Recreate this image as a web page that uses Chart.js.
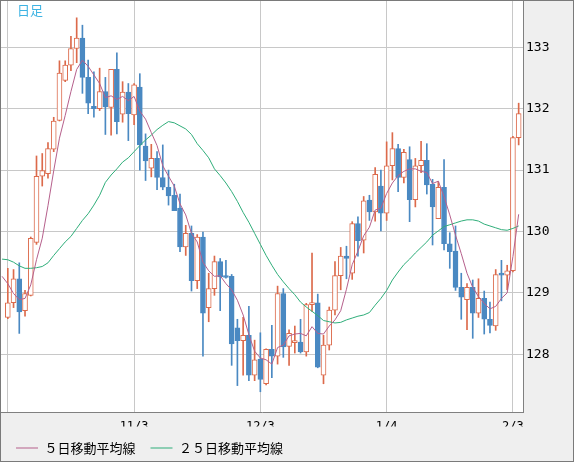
<!DOCTYPE html>
<html>
<head>
<meta charset="utf-8">
<script src="https://cdn.jsdelivr.net/npm/chart.js@4.4.1/dist/chart.umd.min.js"></script>
<style>
  html, body { margin: 0; padding: 0; background: #efefef; }
  #wrap { width: 574px; height: 462px; box-sizing: border-box; border: 1px solid #7a7a7a; background: #efefef; }
  canvas { display: block; }
</style>
</head>
<body>
<div id="wrap"><canvas id="chart" width="572" height="460"></canvas></div>
<script>
// trading days shown on the x axis
const dates = [
    '10/3','10/4','10/5','10/6','10/7','10/11','10/12','10/13','10/14','10/17','10/18','10/19','10/20','10/21','10/24','10/25','10/26','10/27','10/28','10/31','11/1','11/2',
    '11/3','11/4','11/7','11/8','11/9','11/10','11/11','11/14','11/15','11/16','11/17','11/18','11/21','11/22','11/23','11/24','11/25','11/28','11/29','11/30','12/1','12/2',
    '12/3','12/6','12/7','12/8','12/9','12/10','12/13','12/14','12/15','12/16','12/17','12/20','12/21','12/22','12/23','12/24','12/27','12/28','12/29','12/30','12/31','1/3',
    '1/4','1/5','1/6','1/7','1/10','1/11','1/12','1/13','1/14','1/17','1/18','1/19','1/20','1/21','1/24','1/25','1/26','1/27','1/28','1/31','2/1','2/2','2/3','2/4'
];
const gridDates = ['10/3', '11/3', '12/3', '1/4', '2/3'];
const priceTicks = [128, 129, 130, 131, 132, 133];

// daily candles (open / high / low / close)
const opens = [
    128.60,128.84,129.23,128.71,128.96,129.82,130.90,130.94,131.34,131.81,132.46,132.71,132.98,133.15,132.51,132.04,132.00,132.28,132.02,132.64,
    131.91,132.27,131.90,132.35,131.39,131.03,131.19,130.88,130.72,130.59,130.38,129.75,129.97,129.20,129.91,128.76,129.07,129.51,129.27,129.27,
    128.43,128.22,128.31,127.66,127.92,127.52,128.08,127.97,128.99,128.13,128.19,128.20,128.04,128.81,128.84,127.66,128.15,128.72,129.28,129.60,
    129.32,130.13,129.86,130.51,130.32,130.74,130.30,131.07,131.35,130.88,131.17,130.52,131.07,131.16,130.77,130.21,130.72,129.80,129.68,129.09,
    128.89,129.09,128.67,128.91,128.57,128.46,129.31,129.29,129.36,131.53
];
const highs = [
    129.40,129.38,129.49,129.04,129.91,131.23,131.27,131.45,131.86,132.78,132.78,133.18,133.48,133.36,132.79,132.60,132.66,132.51,132.64,132.91,
    132.44,132.41,132.41,132.57,131.59,131.42,131.30,131.41,131.00,130.77,130.61,130.10,130.09,129.95,129.99,129.32,129.60,129.56,129.53,129.30,
    128.57,128.60,128.78,128.23,128.35,128.09,128.47,129.11,129.07,128.40,128.46,128.57,128.83,129.65,128.98,128.31,128.77,129.51,129.74,129.76,
    130.16,130.24,130.57,130.59,131.04,131.00,131.46,131.61,131.42,131.34,131.38,131.19,131.47,131.43,130.85,130.81,131.17,129.98,130.09,129.32,
    129.15,129.21,129.23,129.03,128.85,129.38,129.53,129.45,131.55,132.09
];
const lows = [
    128.58,128.76,128.34,128.62,128.95,129.79,130.74,130.87,131.30,131.80,132.44,132.62,132.75,132.25,131.92,131.86,131.97,131.58,131.57,131.59,
    131.78,131.48,131.74,131.00,130.83,130.89,130.68,130.68,130.43,130.34,129.67,129.61,129.03,129.07,127.97,128.53,128.96,128.71,129.24,127.82,
    127.49,127.66,127.57,127.57,127.39,127.50,127.62,127.84,127.95,127.82,128.02,128.02,127.97,128.70,127.78,127.52,128.07,128.64,129.05,129.23,
    129.22,129.60,129.65,130.18,130.17,130.01,130.18,130.84,130.65,130.79,130.16,130.40,130.96,130.61,129.78,130.21,129.70,129.40,129.04,128.57,
    128.40,128.26,128.60,128.33,128.35,128.39,128.87,129.05,129.34,131.41
];
const closes = [
    128.84,129.23,128.69,128.99,129.89,130.90,130.99,131.35,131.80,132.58,132.71,132.98,133.15,132.51,132.09,132.00,132.28,132.03,132.64,131.79,
    132.27,131.92,132.39,131.41,131.15,131.19,130.88,130.72,130.58,130.34,129.75,129.97,129.20,129.91,128.67,129.07,129.51,129.26,129.25,128.17,
    128.22,128.31,127.66,127.91,127.59,128.08,127.97,128.99,128.12,128.34,128.21,128.04,128.81,128.84,127.79,128.15,128.72,129.28,129.60,129.56,
    130.13,129.85,130.50,130.32,130.93,130.30,131.07,131.35,130.88,131.29,130.52,131.07,131.16,130.76,130.40,130.72,129.80,129.67,129.09,128.93,
    129.09,128.67,128.91,128.57,128.47,129.30,129.29,129.36,131.53,131.92
];

// moving averages, first value belongs to the day before 10/3
const maStart = -1;
const ma5 = [
    129.27,
    129.15,128.99,128.89,128.91,129.13,129.54,129.89,130.42,130.99,131.52,131.89,132.28,132.64,132.79,132.69,132.55,132.41,132.18,132.21,132.15,
    132.20,132.13,132.20,131.96,131.83,131.61,131.40,131.07,130.90,130.74,130.45,130.27,129.97,129.83,129.50,129.36,129.27,129.28,129.15,129.05,
    128.88,128.64,128.32,128.05,127.94,127.91,127.84,128.11,128.15,128.30,128.33,128.34,128.30,128.45,128.34,128.33,128.46,128.56,128.71,129.06,
    129.46,129.68,129.93,130.07,130.35,130.38,130.62,130.79,130.91,130.98,131.02,131.02,130.98,130.96,130.78,130.82,130.57,130.27,129.94,129.64,
    129.32,129.09,128.94,128.83,128.74,128.78,128.91,129.00,129.59,130.28
];
const ma25 = [
    129.55,
    129.54,129.50,129.44,129.40,129.40,129.41,129.43,129.49,129.61,129.72,129.83,129.92,130.05,130.18,130.29,130.43,130.59,130.80,130.92,131.02,
    131.13,131.20,131.30,131.40,131.49,131.57,131.66,131.73,131.79,131.77,131.72,131.67,131.58,131.43,131.32,131.20,131.02,130.91,130.79,130.65,
    130.49,130.31,130.15,129.97,129.79,129.61,129.45,129.30,129.18,129.07,128.97,128.85,128.77,128.70,128.63,128.55,128.53,128.51,128.52,128.56,
    128.59,128.62,128.64,128.68,128.80,128.91,129.04,129.21,129.34,129.46,129.55,129.65,129.74,129.83,129.94,130.01,130.08,130.11,130.14,130.17,
    130.19,130.19,130.17,130.12,130.09,130.06,130.03,130.02,130.05,130.09
];

const UP = '#dc6a4b';
const DOWN = '#4a89c2';
const isUp = i => closes[i] >= opens[i];
const candleColor = ctx => isUp(ctx.dataIndex) ? UP : DOWN;

const wickData = dates.map((d, i) => ({ x: i, y: [lows[i], highs[i]] }));
const bodyData = dates.map((d, i) => ({ x: i, y: [opens[i], closes[i]] }));
const ma5Data = ma5.map((v, i) => ({ x: i + maStart, y: v }));
const ma25Data = ma25.map((v, i) => ({ x: i + maStart, y: v }));

const gridIdx = gridDates.map(d => dates.indexOf(d));

// white plot area and the "日足" caption
const chartFrame = {
    id: 'chartFrame',
    beforeDraw(chart) {
        const { ctx, chartArea: a } = chart;
        ctx.save();
        ctx.fillStyle = '#ffffff';
        ctx.fillRect(a.left, a.top, a.right - a.left, a.bottom - a.top);
        ctx.restore();
    },
    afterDraw(chart) {
        const { ctx, chartArea: a } = chart;
        ctx.save();
        ctx.font = '13px "Noto Sans CJK JP"';
        ctx.fillStyle = '#3db3e3';
        ctx.textBaseline = 'middle';
        ctx.fillText('日足', a.left + 16, a.top + 9);
        ctx.restore();
    }
};

new Chart(document.getElementById('chart'), {
    type: 'bar',
    data: {
        datasets: [
            {
                label: 'body',
                data: bodyData,
                grouped: false,
                order: 1,
                barThickness: 5,
                minBarLength: 2,
                borderWidth: 1,
                borderSkipped: false,
                borderColor: candleColor,
                backgroundColor: ctx => isUp(ctx.dataIndex) ? '#ffffff' : DOWN
            },
            {
                label: 'wick',
                data: wickData,
                grouped: false,
                order: 2,
                barThickness: 1,
                borderWidth: 0,
                backgroundColor: candleColor
            },
            {
                type: 'line',
                label: '５日移動平均線',
                data: ma5Data,
                order: 0,
                borderColor: '#b6608c',
                backgroundColor: '#b6608c',
                borderWidth: 1,
                pointRadius: 0,
                tension: 0
            },
            {
                type: 'line',
                label: '２５日移動平均線',
                data: ma25Data,
                order: 0,
                borderColor: '#2fae7a',
                backgroundColor: '#2fae7a',
                borderWidth: 1,
                pointRadius: 0,
                tension: 0
            }
        ]
    },
    options: {
        responsive: false,
        animation: false,
        events: [],
        layout: { padding: { left: 0, right: 0, top: 0, bottom: -3.5 } },
        scales: {
            x: {
                type: 'linear',
                min: -1.185,
                max: 89.756,
                offset: false,
                afterBuildTicks: scale => {
                    scale.ticks = gridIdx.map(v => ({ value: v }));
                },
                afterFit: scale => {
                    scale.height = 14.5;
                    scale.paddingLeft = 0;
                    scale.paddingRight = 0;
                },
                grid: { color: '#c8c8c8', drawTicks: false, offset: false },
                border: { color: '#808080' },
                ticks: {
                    autoSkip: false,
                    maxRotation: 0,
                    padding: 8,
                    color: '#000',
                    font: { family: '"DejaVu Sans Mono"', size: 12 },
                    callback: v => v === 0 ? '' : dates[v]
                }
            },
            y: {
                position: 'right',
                min: 127.06,
                max: 133.754,
                afterBuildTicks: scale => {
                    scale.ticks = priceTicks.map(v => ({ value: v }));
                },
                afterFit: scale => {
                    scale.width = 50;
                    scale.paddingTop = 0;
                    scale.paddingBottom = 0;
                },
                grid: { color: '#c8c8c8', drawTicks: false },
                border: { color: '#808080' },
                ticks: {
                    padding: 3,
                    color: '#000',
                    font: { family: '"DejaVu Sans Mono"', size: 13 }
                }
            }
        },
        plugins: {
            tooltip: { enabled: false },
            legend: {
                position: 'bottom',
                align: 'start',
                labels: {
                    boxWidth: 22,
                    boxHeight: 1,
                    padding: 15,
                    color: '#000',
                    font: { family: '"Noto Sans CJK JP"', size: 13 },
                    generateLabels: chart => Chart.defaults.plugins.legend.labels.generateLabels(chart)
                        .filter(item => item.datasetIndex >= 2)
                        .map(item => Object.assign(item, { lineWidth: 0 }))
                }
            }
        }
    },
    plugins: [chartFrame]
});
</script>
</body>
</html>
